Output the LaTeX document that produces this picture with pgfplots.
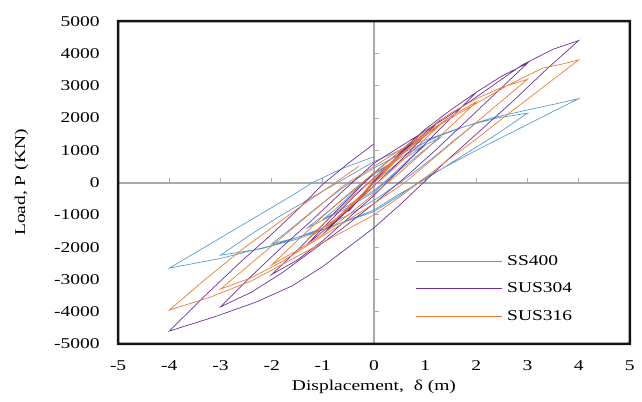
\documentclass[border=0pt]{standalone}
\usepackage{fontspec}
\setmainfont{Liberation Serif}[FakeStretch=1.3]
\usepackage{pgfplots}
\pgfplotsset{compat=1.18}
\definecolor{ssblue}{RGB}{91,155,213}
\definecolor{suspurple}{RGB}{112,48,160}
\definecolor{susorange}{RGB}{237,125,49}
\definecolor{axgray}{RGB}{170,170,170}
\definecolor{framec}{RGB}{20,20,20}

\begin{document}
\begin{tikzpicture}
\begin{axis}[scale only axis,width=512pt,height=323pt,
  xmin=-5,xmax=5,ymin=-5000,ymax=5000,
  xtick={-5,-4,-3,-2,-1,0,1,2,3,4,5},
  xticklabels={-5,-4,-3,-2,-1,0,1,2,3,4,5},
  ytick={-5000,-4000,-3000,-2000,-1000,0,1000,2000,3000,4000,5000},
  yticklabels={-5000,-4000,-3000,-2000,-1000,0,1000,2000,3000,4000,5000},
  major tick length=0pt,
  axis line style={line width=2.5pt,framec},
  tick label style={font=\fontsize{15}{17}\selectfont},
  yticklabel style={xshift=-15pt},
  xticklabel style={yshift=-13pt},
  xlabel={Displacement,\ \ δ (m)},ylabel={Load, P (KN)},
  label style={font=\fontsize{15}{17}\selectfont},
  xlabel style={yshift=-3pt},
  ylabel style={yshift=19pt},
  clip=false,
  legend style={draw=none,fill=none,at={(0.575,0.287)},anchor=north west,
    font=\fontsize{15}{17}\selectfont,row sep=12pt,column sep=3pt},
  legend cell align=left,
  legend image code/.code={\draw[#1] (0pt,0pt) -- (86pt,0pt);},
  every axis plot/.append style={line width=0.7pt,no marks}]
% gray axes through the origin
\draw[axgray,line width=2pt] (axis cs:-5,0) -- (axis cs:5,0);
\draw[axgray,line width=2pt] (axis cs:0,-5000) -- (axis cs:0,5000);
\pgfplotsinvokeforeach{-4,-3,-2,-1,1,2,3,4}{
  \draw[axgray,line width=1pt] (axis cs:#1,0) -- ++(0pt,5pt);}
\pgfplotsinvokeforeach{-4000,-3000,-2000,-1000,1000,2000,3000,4000}{
  \draw[axgray,line width=1pt] (axis cs:0,#1) -- ++(5pt,0pt);}
% empty nodes that give the margins of the reference
\node[inner sep=0pt,minimum width=118pt,anchor=east] at (rel axis cs:0,0.5) {};
\node[inner sep=0pt,minimum width=12pt,anchor=west] at (rel axis cs:1,0.5) {};
\node[inner sep=0pt,minimum height=21pt,anchor=south] at (rel axis cs:0.5,1) {};
\node[inner sep=0pt,minimum height=57pt,anchor=north] at (rel axis cs:0.5,0) {};

\addplot[ssblue] coordinates {
(0,0)(0.5,650)(1,1150)(0.7,750)(0.3,150)(0,-250)(-0.5,-700)(-1,-1150)(-0.7,-750)(-0.3,-150)(0,250)
(0.6,850)(1.3,1400)(0.9,900)(0.4,250)(0,-300)(-0.6,-850)(-1.3,-1400)(-0.9,-900)(-0.4,-250)(0,300)
(0.5,750)(1,1250)(1.5,1600)(2,1850)(1.6,1350)(1.1,700)(0.6,100)(0,-550)(-0.5,-1000)(-1,-1400)(-1.5,-1700)(-2,-1900)(-1.6,-1400)(-1.1,-750)(-0.6,-150)(0,450)
(0.6,950)(1.2,1400)(1.8,1750)(2.4,2000)(3,2150)(2.4,1500)(1.7,800)(1,100)(0.5,-350)(0,-850)(-0.8,-1350)(-1.5,-1750)(-2.2,-2050)(-3,-2250)(-2.4,-1600)(-1.8,-1000)(-1.2,-450)(-0.6,100)(0,650)
(0.8,1200)(1.6,1650)(2.3,2000)(3,2250)(3.5,2420)(4,2600)(3,1800)(2,1000)(1,150)(0.5,-400)(0,-900)(-1,-1450)(-2,-1950)(-3,-2350)(-4,-2650)(-3.2,-1900)(-2.4,-1150)(-1.6,-400)(-1.2,0)(-0.6,450)(0,800)
};
\addlegendentry{SS400}
\addplot[suspurple] coordinates {
(0,0)(0.5,900)(0.25,450)(0,0)(-0.5,-900)(-0.25,-450)(0,0)
(0.5,900)(1,1650)(0.6,1050)(0.2,400)(0,0)(-0.5,-800)(-1,-1600)(-0.6,-1000)(-0.2,-350)(0,50)
(0.6,1000)(1.3,1950)(0.9,1300)(0.4,500)(0,-100)(-0.6,-1000)(-1.3,-1900)(-0.9,-1250)(-0.4,-450)(0,150)
(0.5,850)(1,1650)(1.5,2250)(2,2800)(1.5,2000)(1,1200)(0.5,400)(0,-400)(-0.5,-1100)(-1,-1800)(-1.5,-2400)(-2,-2850)(-1.5,-2100)(-1,-1300)(-0.5,-500)(0,300)
(0.5,950)(1,1650)(1.5,2250)(2,2800)(2.5,3300)(3,3700)(2.4,2800)(1.8,1900)(1.2,1000)(0.6,150)(0,-650)(-0.6,-1400)(-1.2,-2100)(-1.8,-2800)(-2.4,-3400)(-3,-3850)(-2.4,-2900)(-1.8,-2000)(-1.2,-1150)(-0.6,-250)(0,600)
(0.7,1300)(1.4,2000)(2,2650)(2.9,3650)(3.5,4130)(4,4400)(3.4,3550)(2.7,2500)(2,1500)(1.4,650)(1,50)(0.5,-700)(0,-1400)(-0.5,-2000)(-1,-2600)(-1.6,-3200)(-2.3,-3700)(-3.1,-4150)(-4,-4600)(-3.3,-3500)(-2.6,-2450)(-2,-1600)(-1.4,-700)(-1,-50)(-0.5,600)(0,1200)
};
\addlegendentry{SUS304}
\addplot[susorange] coordinates {
(0,0)(0.5,800)(0.25,400)(0,0)(-0.5,-800)(-0.25,-400)(0,0)
(0.5,800)(1,1500)(0.6,950)(0.2,300)(0,0)(-0.5,-750)(-1,-1500)(-0.6,-950)(-0.2,-300)(0,100)
(0.6,950)(1.3,1800)(0.9,1200)(0.4,450)(0,-100)(-0.6,-950)(-1.3,-1750)(-0.9,-1150)(-0.4,-400)(0,150)
(0.5,850)(1,1500)(1.5,2050)(2,2500)(1.5,1750)(1,1000)(0.5,300)(0,-350)(-0.5,-1000)(-1,-1600)(-1.5,-2100)(-2,-2550)(-1.5,-1800)(-1,-1050)(-0.5,-350)(0,300)
(0.5,950)(1,1600)(1.5,2150)(2,2600)(2.5,2950)(3,3200)(2.4,2400)(1.8,1600)(1.2,800)(0.6,0)(0,-650)(-0.6,-1250)(-1.2,-1850)(-1.8,-2450)(-2.4,-2950)(-3,-3300)(-2.4,-2500)(-1.8,-1700)(-1.2,-900)(-0.6,-100)(0,500)
(0.7,1200)(1.4,1900)(2,2450)(2.6,3000)(3.3,3550)(3.7,3680)(4,3800)(3.3,2950)(2.6,2100)(2,1350)(1.4,650)(1,150)(0.5,-450)(0,-1000)(-0.7,-1600)(-1.4,-2200)(-2.4,-3050)(-3.2,-3550)(-4,-3950)(-3.3,-3000)(-2.6,-2100)(-2,-1400)(-1.4,-700)(-0.8,-50)(-0.3,500)
};
\addlegendentry{SUS316}
% frame as a filled ring
\fill[framec,even odd rule]
  ([xshift=-1.25pt,yshift=-1.25pt]rel axis cs:0,0) rectangle ([xshift=1.25pt,yshift=1.25pt]rel axis cs:1,1)
  ([xshift=1.25pt,yshift=1.25pt]rel axis cs:0,0) rectangle ([xshift=-1.25pt,yshift=-1.25pt]rel axis cs:1,1);
\end{axis}
\end{tikzpicture}
\end{document}
